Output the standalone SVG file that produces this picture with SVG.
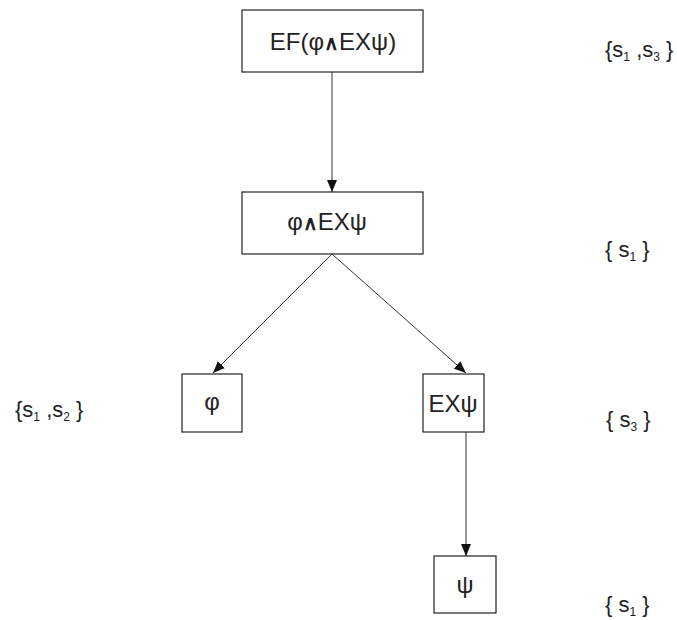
<svg xmlns="http://www.w3.org/2000/svg" width="677" height="620" viewBox="0 0 677 620">
<style>
.box{fill:#fff;stroke:#222;stroke-width:1.2}
.t{font-family:"Liberation Sans",Arial,sans-serif;fill:#222;text-anchor:middle}
.lbl{font-family:"Liberation Sans",Arial,sans-serif;fill:#222;font-size:22px}
.sub{font-size:12px}
.edge{stroke:#333;stroke-width:1;fill:none;marker-end:url(#ah)}
.and{font-weight:bold;font-size:20px}
</style>
<defs>
<marker id="ah" viewBox="0 0 12 10" refX="12" refY="5" markerWidth="12" markerHeight="10" markerUnits="userSpaceOnUse" orient="auto">
<path d="M0,0 L12,5 L0,10 z" fill="#111"/>
</marker>
</defs>
<rect width="677" height="620" fill="#fff"/>
<g id="connectors">
<line class="edge" x1="332" y1="72" x2="332" y2="192"/>
<line class="edge" x1="332" y1="254" x2="213" y2="373"/>
<line class="edge" x1="332" y1="254" x2="466" y2="373"/>
<line class="edge" x1="466" y1="432" x2="466" y2="556"/>
</g>
<g id="n1">
<rect class="box" x="242" y="10" width="181" height="62"/>
<text class="t" x="333" y="50" font-size="24">EF(φ<tspan class="and">∧</tspan>EXψ)</text>
</g>
<g id="n2">
<rect class="box" x="242" y="192" width="181" height="62"/>
<text class="t" x="327" y="230" font-size="24">φ<tspan class="and">∧</tspan>EXψ</text>
</g>
<g id="n3">
<rect class="box" x="182" y="374" width="60" height="58"/>
<text class="t" x="212" y="410" font-size="24">φ</text>
</g>
<g id="n4">
<rect class="box" x="423" y="374" width="61" height="58"/>
<text class="t" x="453" y="412" font-size="24">EXψ</text>
</g>
<g id="n5">
<rect class="box" x="434" y="556" width="62" height="57"/>
<text class="t" x="465" y="593" font-size="24">ψ</text>
</g>
<g id="labels">
<text class="lbl" x="605" y="57">{s<tspan class="sub" dy="4">1</tspan><tspan dy="-4"> ,s</tspan><tspan class="sub" dy="4">3</tspan><tspan dy="-4"> }</tspan></text>
<text class="lbl" x="605" y="257">{ s<tspan class="sub" dy="4">1</tspan><tspan dy="-4"> }</tspan></text>
<text class="lbl" x="15" y="417">{s<tspan class="sub" dy="4">1</tspan><tspan dy="-4"> ,s</tspan><tspan class="sub" dy="4">2</tspan><tspan dy="-4"> }</tspan></text>
<text class="lbl" x="606" y="427">{ s<tspan class="sub" dy="4">3</tspan><tspan dy="-4"> }</tspan></text>
<text class="lbl" x="605" y="612">{ s<tspan class="sub" dy="4">1</tspan><tspan dy="-4"> }</tspan></text>
</g>
</svg>
